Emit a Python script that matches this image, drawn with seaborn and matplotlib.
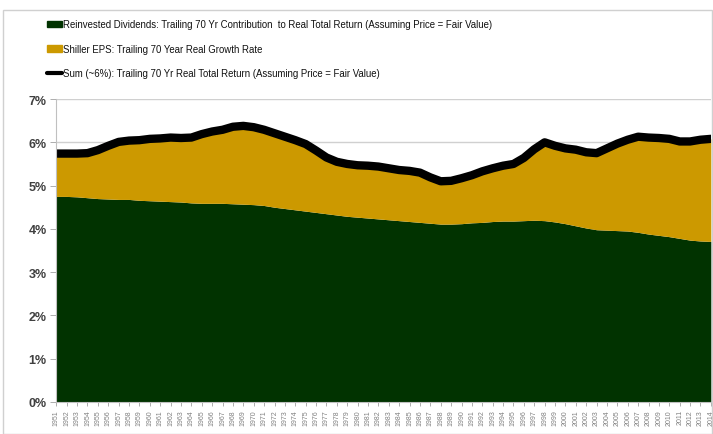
import matplotlib
matplotlib.use("Agg")
import matplotlib.pyplot as plt
import matplotlib.patches as mpatches
import matplotlib.lines as mlines
from matplotlib.ticker import FuncFormatter
import seaborn as sns
import pandas as pd
import numpy as np

years = list(range(1951, 2015))
dividends = [4.75, 4.75, 4.74, 4.72, 4.70, 4.69, 4.68, 4.68, 4.66, 4.65,
             4.64, 4.63, 4.62, 4.60, 4.59, 4.59, 4.59, 4.58, 4.57, 4.56,
             4.54, 4.50, 4.47, 4.44, 4.41, 4.38, 4.35, 4.32, 4.29, 4.27,
             4.25, 4.23, 4.21, 4.19, 4.17, 4.15, 4.13, 4.11, 4.11, 4.12,
             4.14, 4.15, 4.17, 4.18, 4.18, 4.19, 4.20, 4.19, 4.16, 4.12,
             4.07, 4.02, 3.98, 3.97, 3.96, 3.95, 3.92, 3.88, 3.85, 3.82,
             3.78, 3.74, 3.72, 3.71]
total = [5.74, 5.74, 5.74, 5.75, 5.82, 5.92, 6.01, 6.04, 6.05, 6.08,
         6.09, 6.11, 6.10, 6.11, 6.19, 6.25, 6.29, 6.36, 6.38, 6.35,
         6.29, 6.21, 6.13, 6.05, 5.96, 5.81, 5.65, 5.55, 5.50, 5.47,
         5.46, 5.44, 5.40, 5.36, 5.34, 5.30, 5.19, 5.10, 5.11, 5.17,
         5.24, 5.33, 5.40, 5.46, 5.50, 5.64, 5.84, 6.00, 5.92, 5.86,
         5.83, 5.77, 5.75, 5.86, 5.97, 6.06, 6.13, 6.11, 6.10, 6.08,
         6.02, 6.02, 6.06, 6.08]
eps_growth = [t - d for t, d in zip(total, dividends)]

labels = ["Reinvested Dividends: Trailing 70 Yr Contribution  to Real Total Return (Assuming Price = Fair Value)",
          "Shiller EPS: Trailing 70 Year Real Growth Rate",
          "Sum (~6%): Trailing 70 Yr Real Total Return (Assuming Price = Fair Value)"]

GREEN = "#013300"
GOLD = "#CC9900"

sns.set_style("white")
plt.rcParams['font.family'] = ['Liberation Sans', 'DejaVu Sans']

fig = plt.figure(figsize=(7.13, 4.35), dpi=100)
ax = fig.add_axes([0.079, 0.0736, 0.918, 0.6964])

df = pd.DataFrame({"year": years, "total": total})
ax.stackplot(years, dividends, eps_growth, colors=[GREEN, GOLD], linewidth=0)
sns.lineplot(data=df, x="year", y="total", ax=ax, color="black", linewidth=6, legend=False)

ax.set_xlim(1951, 2014)
ax.set_ylim(0, 7)
ax.set_yticks(range(0, 8))
ax.yaxis.set_major_formatter(FuncFormatter(lambda v, p: f"{int(v)}%"))
ax.set_xticks(years)
ax.set_xticklabels([str(y) for y in years], rotation=90, fontsize=5, color="#808080")
for lab in ax.get_yticklabels():
    lab.set_fontweight("bold")
    lab.set_color("#404040")
    lab.set_fontsize(9)
ax.set_xlabel("")
ax.set_ylabel("")
ax.grid(axis="y", color="#d0d0d0", linewidth=1)
ax.set_axisbelow(True)
for s in ["top", "right"]:
    ax.spines[s].set_visible(False)
ax.spines["left"].set_color("#c0c0c0")
ax.spines["bottom"].set_color("#c0c0c0")
ax.tick_params(axis="x", length=3, width=0.6, color="#a0a0a0", pad=2, bottom=True)
ax.tick_params(axis="y", length=4, width=0.6, color="#a0a0a0", pad=3, left=True)

handles = [mpatches.Patch(color=GREEN), mpatches.Patch(color=GOLD),
           mlines.Line2D([], [], color="black", linewidth=3)]
leg = fig.legend(handles, labels, loc="upper left", bbox_to_anchor=(0.061, 0.962),
                 frameon=False, fontsize=6.9, handlelength=1.5, handleheight=0.7,
                 handletextpad=0.15, labelspacing=1.5, borderaxespad=0)
for t in leg.get_texts():
    t.set_color("#111111")

fig.patches.append(mpatches.Rectangle((0.004, 0.0), 0.995, 0.975, transform=fig.transFigure,
                                      fill=False, edgecolor="#d0d0d0", linewidth=1))

fig.savefig("out.png", dpi=100)
